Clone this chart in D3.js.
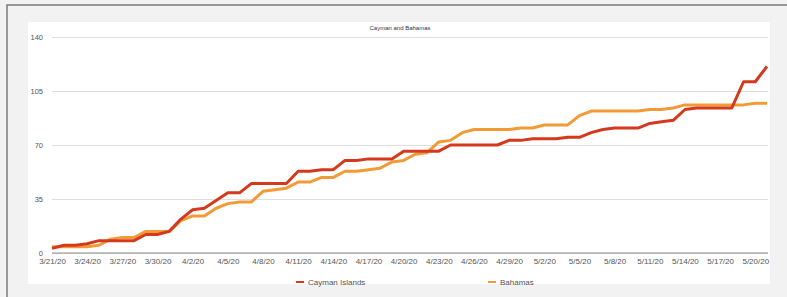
<!DOCTYPE html>
<html>
<head>
<meta charset="utf-8">
<script src="https://cdn.jsdelivr.net/npm/d3@7"></script>
<style>
  body { margin: 0; background: #f2f2f2; }
  svg { display: block; font-family: "Liberation Sans", Arial, sans-serif; }
</style>
</head>
<body>
<svg width="787" height="297"></svg>
<script>
// daily cumulative cases, 3/21/20 .. 5/21/20
const startDay = new Date(2020, 2, 21);
const endDay = new Date(2020, 4, 22);
const days = d3.timeDay.range(startDay, endDay);

const cayman = [3, 5, 5, 6, 8, 8, 8, 8, 12, 12,
  14, 22, 28, 29, 34, 39, 39, 45, 45, 45,
  45, 53, 53, 54, 54, 60, 60, 61, 61, 61,
  66, 66, 66, 66, 70, 70, 70, 70, 70, 73,
  73, 74, 74, 74, 75, 75, 78, 80, 81, 81,
  81, 84, 85, 86, 93, 94, 94, 94, 94, 111,
  111, 121];

const bahamas = [4, 4, 4, 4, 5, 9, 10, 10, 14, 14,
  14, 21, 24, 24, 29, 32, 33, 33, 40, 41,
  42, 46, 46, 49, 49, 53, 53, 54, 55, 59,
  60, 64, 65, 72, 73, 78, 80, 80, 80, 80,
  81, 81, 83, 83, 83, 89, 92, 92, 92, 92,
  92, 93, 93, 94, 96, 96, 96, 96, 96, 96,
  97, 97];

const yTicks = [0, 35, 70, 105, 140];
const seriesNames = ['Cayman Islands', 'Bahamas'];
const seriesColors = ['#d5391d', '#f29b36'];

const svg = d3.select('svg');

// outer frame + white panel
svg.append('rect')
  .attr('x', 7).attr('y', 5).attr('width', 800).attr('height', 310)
  .style('fill', '#f2f2f2').style('stroke', '#7a7a7a').style('stroke-width', 1.5);
svg.append('rect')
  .attr('x', 28).attr('y', 22).attr('width', 742).attr('height', 262)
  .style('fill', '#ffffff');

svg.append('text')
  .attr('x', 400).attr('y', 30)
  .attr('text-anchor', 'middle')
  .style('font-size', '6px')
  .style('fill', '#333')
  .text('Cayman and Bahamas');

const x = d3.scaleTime()
  .domain([startDay, days[days.length - 1]])
  .range([52, 767]);

const y = d3.scaleLinear()
  .domain([0, 140])
  .range([253, 37]);

// gridlines + y labels
const yAxis = svg.append('g')
  .attr('transform', 'translate(52,0)')
  .call(d3.axisLeft(y).tickValues(yTicks).tickSize(-716).tickPadding(9));
yAxis.select('.domain').remove();
yAxis.selectAll('line').style('stroke', '#dedede');
yAxis.selectAll('text').style('font-size', '7.5px').style('fill', '#555');

// x axis
const xTicks = days.filter((d, i) => i % 3 === 0 && i <= 60);
const xAxis = svg.append('g')
  .attr('transform', `translate(0,${y(0)})`)
  .call(d3.axisBottom(x).tickValues(xTicks).tickSize(0).tickPadding(5)
    .tickFormat(d3.timeFormat('%-m/%-d/%y')));
xAxis.select('.domain').style('stroke', '#8a8a8a').attr('d', 'M52,0H768');
xAxis.selectAll('text').style('font-size', '8px').style('fill', '#555');

const line = d3.line()
  .x((d, i) => x(days[i]))
  .y(d => y(d));

const series = [bahamas, cayman];
const colors = [seriesColors[1], seriesColors[0]];

svg.selectAll('path.series')
  .data(series)
  .join('path')
  .attr('class', 'series')
  .attr('d', line)
  .style('fill', 'none')
  .style('stroke', (d, i) => colors[i])
  .style('stroke-width', 3)
  .style('stroke-linejoin', 'round');

// legend
const legendX = [296, 488];
const legend = svg.selectAll('g.legend')
  .data(seriesNames)
  .join('g')
  .attr('class', 'legend')
  .attr('transform', (d, i) => `translate(${legendX[i]},282)`);

legend.append('line')
  .attr('x1', 0).attr('x2', 8)
  .style('stroke', (d, i) => seriesColors[i])
  .style('stroke-width', 2);

legend.append('text')
  .attr('x', 12).attr('dy', '0.35em')
  .style('font-size', '8px')
  .style('fill', '#555')
  .text(d => d);
</script>
</body>
</html>
